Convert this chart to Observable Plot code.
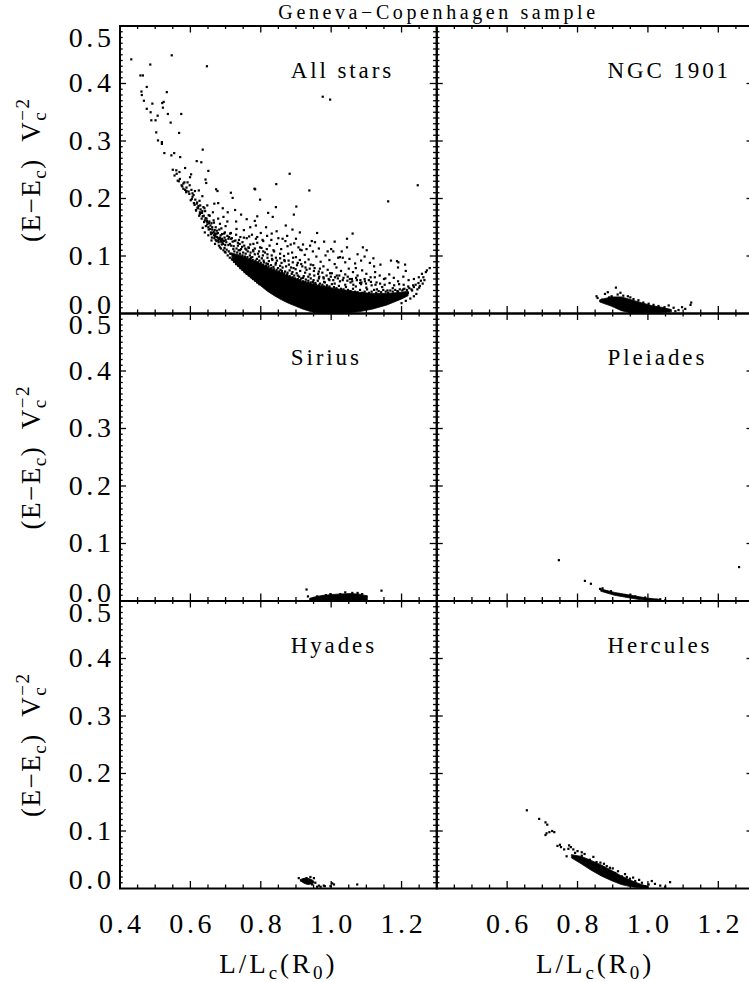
<!DOCTYPE html>
<html><head><meta charset="utf-8">
<script src="https://cdn.jsdelivr.net/npm/d3@7"></script>
<script src="https://cdn.jsdelivr.net/npm/@observablehq/plot@0.6"></script>
<style>
html,body{margin:0;padding:0;background:#fff;}
#wrap{width:749px;height:982px;overflow:hidden;position:relative;background:#fff;}
#wrap svg{max-width:none !important;}
</style></head><body><div id="wrap"></div><script>
// ---------------- data ----------------
const title = "Geneva\u2212Copenhagen sample";
const panels = ["All stars", "NGC 1901", "Sirius", "Pleiades", "Hyades", "Hercules"];
const panelCol = [0, 1, 0, 1, 0, 1];
const panelRow = [0, 0, 1, 1, 2, 2];

// All stars: individual stars [L/Lc, (E-Ec)/Vc^2]
const allStarsPts = [
[0.432,0.442],[0.486,0.433],[0.547,0.449],[0.647,0.430],[0.458,0.414],[0.465,0.414],[0.476,0.394],[0.461,0.386],[0.462,0.380],[0.468,0.370],
[0.533,0.385],[0.492,0.365],[0.520,0.366],[0.524,0.368],[0.522,0.358],[0.476,0.356],[0.487,0.350],[0.536,0.347],[0.574,0.347],[0.507,0.344],
[0.489,0.336],[0.501,0.336],[0.544,0.332],[0.503,0.315],[0.568,0.314],[0.508,0.301],[0.519,0.298],[0.519,0.295],[0.635,0.285],[0.526,0.279],
[0.554,0.279],[0.546,0.275],[0.571,0.272],[0.618,0.265],[0.631,0.263],[0.550,0.250],[0.560,0.249],[0.569,0.246],[0.585,0.253],[0.602,0.242],
[0.599,0.237],[0.651,0.248],[0.555,0.240],[0.564,0.231],[0.567,0.230],[0.643,0.233],[0.645,0.227],[0.882,0.243],[0.844,0.225],[0.976,0.377],[0.997,0.372],
[0.575,0.223],[0.580,0.217],[0.585,0.215],[0.589,0.213],[0.606,0.209],[0.624,0.214],[0.634,0.204],[0.673,0.216],[0.677,0.213],[0.715,0.210],
[0.720,0.201],[0.784,0.216],[0.798,0.198],[0.938,0.214],[1.246,0.223],[1.162,0.195],[0.901,0.186],[0.894,0.172],[0.843,0.185],[0.834,0.168],
[0.821,0.175],[0.790,0.169],[0.783,0.161],[0.786,0.153],[0.871,0.153],[0.890,0.146],[0.911,0.141],[0.744,0.172],[0.727,0.180],[0.706,0.176],
[0.694,0.168],[0.679,0.192],[0.668,0.191],[0.648,0.188],[0.637,0.185],[0.618,0.191],[0.616,0.180],[0.627,0.173],[0.632,0.165],[0.648,0.159],
[0.660,0.157],[0.679,0.165],[0.684,0.156],[0.675,0.144],[0.698,0.141],[0.713,0.139],[0.731,0.147],[0.752,0.132],[0.767,0.134],[0.786,0.130],
[0.807,0.126],[0.831,0.139],[0.862,0.130],[0.885,0.120],[0.907,0.115],[0.945,0.126],[0.954,0.124],[0.930,0.112],[0.916,0.110],[0.990,0.108],
[1.006,0.108],[1.061,0.139],[1.090,0.115],[1.101,0.110],[1.020,0.097],[1.033,0.097],[1.070,0.079],[1.122,0.082],[1.191,0.089],[1.212,0.074],
[1.262,0.063],[1.269,0.072],[1.248,0.053],[1.233,0.049],[1.154,0.061],[1.124,0.063],[1.129,0.054],[1.096,0.056],[1.082,0.053],[1.063,0.050],
[1.053,0.060],[1.016,0.066],[0.997,0.070],[0.978,0.063],[0.968,0.078],[0.949,0.084],[0.926,0.089],[0.911,0.093],[0.892,0.097],[0.878,0.104],
[0.855,0.104],[0.836,0.110],[0.817,0.112],[0.798,0.115],[0.779,0.121],[0.765,0.115],[0.741,0.110],[0.722,0.112],[0.713,0.104],[0.698,0.107],
[0.684,0.115],[0.670,0.121],[0.660,0.127],[0.651,0.136],[0.641,0.141],[0.635,0.149],[0.782,0.217],[1.187,0.091],[1.258,0.069],[1.249,0.063],
[0.561,0.243],[0.570,0.234],[0.580,0.226],[0.589,0.219],[0.597,0.208],[0.604,0.199],[0.610,0.192],[0.620,0.184],[0.627,0.176],[0.635,0.169],
[0.641,0.162],[0.648,0.155],[0.656,0.147],[0.663,0.140],[0.670,0.134],[0.679,0.127],[0.689,0.120],[0.651,0.150],[0.639,0.159],[0.625,0.170],
[0.616,0.179],[0.601,0.197],[0.588,0.211],[0.577,0.221],[0.661,0.132],[0.675,0.139],[0.684,0.132],[0.695,0.126],
[0.700,0.128],[0.712,0.121],[0.725,0.126],[0.735,0.118],[0.748,0.124],[0.756,0.113],[0.770,0.120],[0.778,0.110],[0.790,0.123],[0.802,0.114],
[0.812,0.106],[0.825,0.118],[0.838,0.108],[0.846,0.121],[0.858,0.112],[0.866,0.100],[0.876,0.117],[0.889,0.106],[0.900,0.098],[0.912,0.111],
[0.925,0.102],[0.936,0.094],[0.948,0.108],[0.958,0.099],[0.970,0.090],[0.984,0.101],[0.995,0.093],[1.010,0.086],[1.025,0.098],[1.040,0.089],
[1.052,0.095],[1.068,0.087],[1.085,0.092],[1.110,0.088],[1.140,0.085],
[0.745,0.095],[0.760,0.088],[0.772,0.097],[0.785,0.090],[0.795,0.099],[0.808,0.092],[0.820,0.086],[0.832,0.095],[0.843,0.088],[0.855,0.083],
[0.868,0.091],[0.880,0.085],[0.893,0.079],[0.905,0.088],[0.918,0.082],[0.930,0.076],[0.942,0.085],[0.953,0.079],[0.965,0.073],[0.978,0.082],
[0.990,0.076],[1.002,0.070],[1.015,0.080],[1.028,0.074],[1.040,0.068],[1.050,0.078],[1.062,0.072],[1.075,0.066],[1.088,0.075],[1.100,0.069],
[1.112,0.063],[1.125,0.072],[1.138,0.066],[1.150,0.060],[1.165,0.068],[1.178,0.062],[1.190,0.056],[1.205,0.064],[1.220,0.058],[1.235,0.060],
[1.255,0.057],[1.272,0.075],[1.280,0.079],
[0.860,0.074],[0.875,0.068],[0.890,0.072],[0.905,0.066],[0.920,0.062],[0.935,0.064],[0.950,0.058],[0.965,0.061],[0.980,0.055],[0.995,0.058],
[1.010,0.052],[1.025,0.056],[1.040,0.050],[1.055,0.054],[1.070,0.047],[1.085,0.051],[1.100,0.045],[1.115,0.049],[1.130,0.042],[1.145,0.046],
[1.160,0.040],[1.175,0.044],[1.190,0.038],[1.205,0.042],[1.218,0.036],[1.230,0.040],[1.242,0.034],[1.250,0.045],[1.225,0.026],[1.235,0.030],
[1.212,0.022],[1.200,0.018],
[0.690,0.130],[0.705,0.135],[0.718,0.131],[0.730,0.137],[0.742,0.133],[0.715,0.140],[0.760,0.131],[0.775,0.137],[0.790,0.133],[0.805,0.128],
[0.818,0.135],[0.830,0.128],[0.850,0.131],[0.870,0.126],[0.895,0.122],[0.920,0.120],[0.940,0.118],[0.965,0.113],[1.000,0.112],[1.030,0.108],
[1.045,0.115],[1.075,0.103],[1.095,0.099],[1.120,0.096],[1.170,0.092],[1.190,0.080],[1.210,0.085],
[0.628,0.188],[0.642,0.178],[0.655,0.170],[0.666,0.162],[0.672,0.150],[0.688,0.148],[0.700,0.152],[0.708,0.130],[0.720,0.125],[0.690,0.138],
[0.658,0.141],[0.664,0.176],[0.692,0.183],[0.705,0.160],[0.730,0.160],[0.738,0.128],[0.752,0.145],[0.770,0.150],[0.760,0.164],[0.800,0.140],
[0.815,0.150],[0.845,0.143],[0.875,0.135],[0.900,0.130],[0.960,0.140],[0.980,0.125],[1.010,0.125],[1.045,0.130],
[0.702,0.124],[0.708,0.119],[0.716,0.118],[0.723,0.117],[0.731,0.113],[0.737,0.110],[0.744,0.112],[0.750,0.106],[0.757,0.104],[0.763,0.108],
[0.769,0.101],[0.776,0.098],[0.783,0.103],[0.789,0.095],[0.796,0.092],[0.803,0.096],[0.809,0.089],[0.816,0.087],[0.823,0.091],[0.829,0.084],
[0.836,0.081],[0.842,0.085],[0.849,0.079],[0.856,0.076],[0.862,0.080],[0.869,0.073],[0.876,0.071],[0.882,0.075],[0.888,0.069],[0.895,0.066],
[0.902,0.070],[0.909,0.064],[0.915,0.061],[0.922,0.065],[0.928,0.059],[0.935,0.057],[0.942,0.061],[0.948,0.055],[0.955,0.053],[0.962,0.057],
[0.968,0.052],[0.975,0.050],[0.982,0.054],[0.988,0.049],[0.995,0.047],[1.002,0.051],[1.008,0.046],[1.015,0.044],[1.022,0.048],[1.028,0.043],
[1.035,0.042],[1.042,0.046],[1.048,0.041],[1.055,0.039],[1.062,0.043],[1.068,0.038],[1.075,0.037],[1.082,0.041],[1.088,0.036],[1.095,0.038],
[1.102,0.042],[1.108,0.036],[1.115,0.038],[1.122,0.041],[1.128,0.036],[1.135,0.039],[1.142,0.037],[1.148,0.041],[1.155,0.038],[1.162,0.036],
[1.168,0.040],[1.175,0.038],[1.182,0.041],[1.188,0.039],[1.195,0.042],[1.202,0.040],[1.208,0.043],[1.215,0.041],[1.222,0.044],[1.228,0.042],
[1.235,0.046],[1.240,0.050],[1.245,0.042],[1.252,0.048],[1.260,0.052],[1.265,0.058],
[0.715,0.130],[0.728,0.127],[0.740,0.121],[0.753,0.118],[0.766,0.114],[0.779,0.108],[0.792,0.104],[0.806,0.101],[0.819,0.097],[0.833,0.093],
[0.846,0.092],[0.859,0.088],[0.872,0.082],[0.886,0.080],[0.899,0.077],[0.912,0.074],[0.926,0.071],[0.939,0.068],[0.952,0.066],[0.966,0.064],
[0.979,0.061],[0.993,0.060],[1.006,0.058],[1.019,0.061],[1.033,0.058],[1.046,0.057],[1.060,0.056],[1.073,0.058],[1.086,0.054],[1.099,0.052],
[1.113,0.055],[1.126,0.050],[1.139,0.052],[1.152,0.050],[1.166,0.053],[1.179,0.049],[1.193,0.051],[1.206,0.050],[1.219,0.047],
[0.644,0.152],[0.652,0.146],[0.659,0.138],[0.667,0.136],[0.672,0.128],[0.680,0.124],[0.686,0.125],[0.693,0.121],[0.699,0.119],[0.646,0.165],
[0.654,0.160],[0.662,0.150],[0.669,0.145],[0.678,0.140],[0.686,0.136],[0.697,0.132],[0.633,0.175],[0.622,0.183],[0.612,0.189],[0.606,0.203],
[0.595,0.212],[0.583,0.228],
[0.668,0.131],[0.674,0.126],[0.681,0.118],[0.687,0.113],[0.694,0.110],[0.700,0.106],[0.706,0.101],[0.712,0.097],[0.718,0.094],[0.724,0.090],
[0.730,0.086],[0.736,0.083],[0.742,0.079],[0.748,0.076],[0.754,0.072],[0.760,0.069],[0.766,0.066],[0.772,0.063],[0.778,0.060],[0.784,0.057],
[0.790,0.054],[0.796,0.051],[0.671,0.137],[0.679,0.131],[0.685,0.129],[0.691,0.124],[0.697,0.114],[0.703,0.111],[0.709,0.108],[0.716,0.104],
[0.721,0.101],[0.727,0.098],[0.733,0.093],[0.739,0.090],[0.746,0.087],[0.751,0.083],[0.758,0.080],[0.763,0.076],[0.769,0.073],[0.775,0.070],
[0.781,0.067],[0.787,0.064],[0.793,0.061],[0.799,0.058],
[0.603,0.215],[0.609,0.206],[0.614,0.198],[0.619,0.193],[0.623,0.187],[0.629,0.181],[0.634,0.178],[0.638,0.170],[0.643,0.166],[0.647,0.161],
[0.653,0.157],[0.657,0.153],[0.662,0.146],[0.666,0.142],[0.670,0.139],[0.676,0.133],[0.681,0.130],[0.687,0.128],[0.692,0.127],[0.598,0.223],
[0.592,0.228],[0.613,0.213],[0.626,0.196],[0.640,0.183],[0.652,0.171],[0.667,0.158],[0.682,0.146],[0.696,0.139],[0.710,0.133],
[0.725,0.108],[0.733,0.106],[0.741,0.104],[0.748,0.101],[0.755,0.099],[0.762,0.098],[0.770,0.095],[0.777,0.093],[0.785,0.092],[0.792,0.089],
[0.800,0.088],[0.807,0.085],[0.815,0.083],[0.822,0.082],[0.830,0.079],[0.837,0.077],[0.845,0.076],[0.852,0.073],[0.860,0.071],[0.867,0.070],
[0.875,0.066],[0.882,0.065],[0.890,0.063],[0.897,0.061],[0.905,0.060],[0.912,0.058],[0.920,0.056],[0.927,0.055],[0.935,0.053],[0.942,0.054],
[0.950,0.051],[0.957,0.050],[0.965,0.049],[0.972,0.047],[0.980,0.047],[0.987,0.046],[0.995,0.045],
[0.735,0.123],[0.747,0.116],[0.759,0.111],[0.771,0.106],[0.783,0.113],[0.795,0.108],[0.807,0.108],[0.819,0.103],[0.831,0.101],[0.843,0.097],
[0.855,0.096],[0.867,0.093],[0.879,0.092],[0.891,0.089],[0.903,0.084],[0.915,0.086],[0.927,0.080],[0.939,0.078],[0.951,0.074],[0.963,0.069],
[0.975,0.071],[0.987,0.066],[0.999,0.064],[1.011,0.063],[1.023,0.066],[1.035,0.062],[1.047,0.064],[1.059,0.060],[1.071,0.062],[1.083,0.058],
[1.095,0.060],[1.107,0.058]
];
// saturated (fully black) part of each cloud: [L/Lc, lower edge, upper edge]
const allStarsCore = [
[0.72,0.092,0.104],[0.74,0.079,0.101],[0.76,0.068,0.096],[0.78,0.058,0.091],
[0.80,0.048,0.086],[0.82,0.038,0.080],[0.84,0.030,0.075],[0.86,0.023,0.070],[0.88,0.017,0.064],[0.90,0.012,0.060],
[0.92,0.007,0.055],[0.94,0.003,0.052],[0.96,0.000,0.048],[1.00,0.000,0.044],[1.04,0.000,0.040],[1.08,0.002,0.036],
[1.12,0.007,0.034],[1.16,0.014,0.034],[1.20,0.024,0.036],[1.22,0.030,0.038]
];
const ngcPts = [
[0.854,0.030],[0.857,0.027],[0.878,0.034],[0.886,0.037],[0.909,0.045],[0.897,0.030],[0.914,0.033],[0.930,0.031],[0.943,0.030],[0.959,0.025],
[0.973,0.023],[0.987,0.019],[1.002,0.017],[1.016,0.015],[1.030,0.013],[1.047,0.011],[1.059,0.014],[1.073,0.010],[1.087,0.006],[1.097,0.011],
[1.106,0.008],[1.123,0.019],[1.121,0.015],[1.078,0.004],[1.059,0.004],[0.870,0.024],[0.890,0.028],[0.922,0.036],[0.950,0.028],[0.935,0.025]
];
const ngcCore = [[0.865,0.019,0.023],[0.897,0.012,0.028],[0.926,0.004,0.028],[0.954,0.000,0.023],[0.983,0.000,0.018],[1.011,0.000,0.013],[1.040,0.001,0.010],[1.068,0.002,0.006]];
const siriusPts = [
[0.930,0.020],[0.934,0.008],[1.143,0.018],[0.946,0.003],[0.960,0.008],[0.998,0.012],[1.026,0.012],[1.060,0.014],[1.088,0.012],[1.100,0.008],
[0.970,0.006],[1.040,0.015],[1.075,0.014],[0.985,0.010]
];
const siriusCore = [[0.941,0.000,0.004],[0.960,0.000,0.007],[0.979,0.000,0.009],[1.017,0.000,0.011],[1.055,0.000,0.012],[1.083,0.000,0.011],[1.104,0.001,0.008]];
const pleiadesPts = [
[0.747,0.071],[0.821,0.035],[0.838,0.030],[0.864,0.021],[0.871,0.022],[1.259,0.059],[0.883,0.016],[0.916,0.012],[0.935,0.010],[0.964,0.008],
[0.992,0.006],[1.006,0.003],[1.025,0.002],[1.035,0.003],[1.049,0.001],[0.895,0.017],[0.950,0.011]
];
const pleiadesCore = [[0.868,0.016,0.020],[0.907,0.009,0.014],[0.945,0.005,0.010],[0.973,0.002,0.007],[1.002,0.000,0.004],[1.035,0.000,0.002]];
const hyadesPts = [
[0.908,0.018],[0.915,0.014],[0.922,0.016],[0.930,0.018],[0.941,0.020],[0.951,0.018],[0.946,0.007],[0.955,0.010],[0.965,0.005],[0.970,0.003],
[0.979,0.005],[0.982,0.004],[0.998,0.004],[1.003,0.009],[1.008,0.007],[1.074,0.007],[0.960,0.003]
];
const hyadesCore = [[0.915,0.012,0.015],[0.925,0.008,0.017],[0.935,0.006,0.017],[0.945,0.007,0.015],[0.952,0.009,0.012]];
const herculesPts = [
[0.656,0.136],[0.691,0.121],[0.709,0.115],[0.714,0.111],[0.712,0.096],[0.709,0.093],[0.720,0.098],[0.728,0.100],[0.734,0.098],[0.743,0.074],
[0.753,0.072],[0.750,0.076],[0.776,0.075],[0.781,0.072],[0.774,0.069],[0.788,0.068],[0.812,0.063],[0.793,0.062],[0.769,0.056],[0.762,0.068],
[1.063,0.011],[1.049,0.003],[1.011,0.013],[0.940,0.020],[0.949,0.017],[0.892,0.036],[0.883,0.039],[0.854,0.046],[0.835,0.050],[0.812,0.057],
[0.793,0.055],[0.907,0.027],[0.926,0.021],[0.964,0.013],[0.983,0.010],[0.992,0.004],[1.002,0.007],[0.800,0.065],[0.820,0.060],[0.845,0.055],
[0.865,0.045],[0.875,0.043],[0.900,0.035],[0.915,0.030],[0.935,0.025],[0.958,0.019],[0.975,0.015],[1.020,0.008],[1.035,0.005]
];
const herculesCore = [[0.785,0.052,0.058],[0.812,0.042,0.055],[0.840,0.031,0.048],[0.869,0.021,0.040],[0.897,0.013,0.031],[0.926,0.006,0.021],[0.954,0.002,0.013],[0.983,0.000,0.006],[1.002,0.000,0.003]];

const xTickValues = [0.4, 0.6, 0.8, 1.0, 1.2];
const xTickLabels = ["0.4", "0.6", "0.8", "1.0", "1.2"];
const yTickValues = [0.0, 0.1, 0.2, 0.3, 0.4, 0.5];
const yTickLabels = ["0.0", "0.1", "0.2", "0.3", "0.4", "0.5"];
const xTitle = "L/Lc(R0)";
const yTitle = "(E\u2212Ec) Vc\u22122";

// ---------------- build tables ----------------
const panelPoints = [allStarsPts, ngcPts, siriusPts, pleiadesPts, hyadesPts, herculesPts];
const panelCores = [allStarsCore, ngcCore, siriusCore, pleiadesCore, hyadesCore, herculesCore];
const points = panelPoints.flatMap((pts, i) => pts.map(([x, y]) => ({panel: i, col: panelCol[i], row: panelRow[i], x, y})));
const cores = panelCores.flatMap((c, i) => c.map(([x, lo, hi]) => ({panel: i, col: panelCol[i], row: panelRow[i], x, lo, hi})));
const names = panels.map((name, i) => ({name, col: panelCol[i], row: panelRow[i]}));

const W = 753, H = 982, mL = 119.5, mT = 25.5, mB = 94;
const fw = (W - mL) / 2, fh = (H - mT - mB) / 3;
const xMinor = d3.range(0.45, 1.299, 0.05).filter(v => Math.abs(v * 5 - Math.round(v * 5)) > 1e-6);
const yMinor = d3.range(0.01, 0.4999, 0.01).filter(v => Math.abs(v * 10 - Math.round(v * 10)) > 1e-6);
const yMajor = [0.1, 0.2, 0.3, 0.4];

const xLab = [];
for (const col of [0, 1]) xTickValues.forEach((v, i) => { if (!(col === 1 && i === 0)) xLab.push({col, row: 2, v, label: xTickLabels[i]}); });
const yLab = [];
for (const row of [0, 1, 2]) yTickValues.forEach((v, i) => yLab.push({col: 0, row, v, label: yTickLabels[i]}));

const tickStyle = {stroke: "black", strokeWidth: 1.3};
const TS = 28; // tick label font size
const marks = [
  Plot.areaY(cores, {fx: "col", fy: "row", x: "x", y1: "lo", y2: "hi", z: "panel", fill: "black", stroke: "black", strokeWidth: 0.8}),
  Plot.dot(points, {fx: "col", fy: "row", x: "x", y: "y", r: 1.25, symbol: "square", fill: "black", stroke: "none"}),
  // inward ticks on all four sides
  Plot.tickX(xTickValues.slice(1), {x: d => d, insetTop: fh - 7, ...tickStyle}),
  Plot.tickX(xTickValues.slice(1), {x: d => d, insetBottom: fh - 7, ...tickStyle}),
  Plot.tickX(xMinor, {x: d => d, insetTop: fh - 3.5, ...tickStyle}),
  Plot.tickX(xMinor, {x: d => d, insetBottom: fh - 3.5, ...tickStyle}),
  Plot.tickY(yMajor, {y: d => d, insetRight: fw - 6.5, ...tickStyle}),
  Plot.tickY(yMajor, {y: d => d, insetLeft: fw - 6.5, ...tickStyle}),
  Plot.tickY(yMinor, {y: d => d, insetRight: fw - 3.2, ...tickStyle}),
  Plot.tickY(yMinor, {y: d => d, insetLeft: fw - 3.2, ...tickStyle}),
  Plot.frame({stroke: "black", strokeWidth: 2}),
  // labels
  Plot.text(names, {fx: "col", fy: "row", x: () => 0.885, y: () => 0.423, text: "name", textAnchor: "start", lineAnchor: "middle", fontSize: 23}),
  Plot.text(xLab, {fx: "col", fy: "row", x: "v", text: "label", frameAnchor: "bottom", lineAnchor: "middle", dx: 1.8, dy: 36, fontSize: TS}),
  Plot.text(yLab.filter(d => d.v > 0 && d.v < 0.5), {fx: "col", fy: "row", y: "v", text: "label", frameAnchor: "left", textAnchor: "end", lineAnchor: "middle", dx: -5.5, fontSize: TS}),
  Plot.text(yLab.filter(d => d.v === 0.5), {fx: "col", fy: "row", y: "v", text: "label", frameAnchor: "left", textAnchor: "end", lineAnchor: "middle", dx: -5.5, dy: 12, fontSize: TS}),
  Plot.text(yLab.filter(d => d.v === 0), {fx: "col", fy: "row", y: "v", text: "label", frameAnchor: "left", textAnchor: "end", lineAnchor: "middle", dx: -5.5, dy: -8, fontSize: TS}),
  Plot.text([0, 1, 2].map(row => ({row, col: 0})), {fx: "col", fy: "row", frameAnchor: "left", text: () => yTitle, rotate: -90, textAnchor: "middle", lineAnchor: "middle", dx: -89, fontSize: 27}),
  Plot.text([0, 1].map(col => ({col, row: 2})), {fx: "col", fy: "row", frameAnchor: "bottom", text: () => xTitle, textAnchor: "middle", lineAnchor: "middle", dy: 76, fontSize: 27}),
  Plot.text([{col: 0, row: 0}], {fx: "col", fy: "row", frameAnchor: "top-right", text: () => title, textAnchor: "middle", lineAnchor: "middle", dx: 1.8, dy: -13.5, fontSize: 20})
];

const chart = Plot.plot({
  width: W, height: H,
  marginLeft: mL, marginRight: 0, marginTop: mT, marginBottom: mB,
  style: {fontFamily: "'Liberation Serif', serif", background: "white", color: "black", maxWidth: "none", overflow: "visible"},
  fx: {domain: [0, 1], padding: 0, round: false, axis: null},
  fy: {domain: [0, 1, 2], padding: 0, round: false, axis: null},
  x: {domain: [0.4, 1.3], axis: null},
  y: {domain: [0, 0.5], axis: null},
  marks
});

// letter spacing (wide vector-font look) and sub/superscripts in the axis titles
const NS = "http://www.w3.org/2000/svg";
function rich(textEl, parts) {
  textEl.textContent = "";
  for (const p of parts) {
    const ts = document.createElementNS(NS, "tspan");
    ts.textContent = p.t;
    if (p.dy) ts.setAttribute("dy", p.dy);
    if (p.dx) ts.setAttribute("dx", p.dx);
    if (p.fs) ts.setAttribute("font-size", p.fs);
    textEl.appendChild(ts);
  }
}
const tickSet = new Set([...xTickLabels, ...yTickLabels]);
const nameSet = new Set(panels);
chart.querySelectorAll("text").forEach(t => {
  const s = t.textContent;
  if (tickSet.has(s)) t.style.letterSpacing = "3.6px";
  else if (nameSet.has(s)) t.style.letterSpacing = "2.9px";
  else if (s === title) t.style.letterSpacing = "3.6px";
  else if (s === xTitle) {
    t.style.letterSpacing = "3px";
    rich(t, [{t: "L/L"}, {t: "c", dy: 6, fs: 19}, {t: "(R", dy: -6}, {t: "0", dy: 6, fs: 19}, {t: ")", dy: -6}]);
  } else if (s === yTitle) {
    t.style.letterSpacing = "1.5px";
    rich(t, [{t: "(E\u2212E"}, {t: "c", dy: 6, fs: 19}, {t: ")\u00a0\u00a0V", dy: -6}, {t: "c", dy: 6, fs: 19}, {t: "\u22122", dx: -10, dy: -17, fs: 19}]);
  }
});
document.getElementById("wrap").appendChild(chart);
</script></body></html>
